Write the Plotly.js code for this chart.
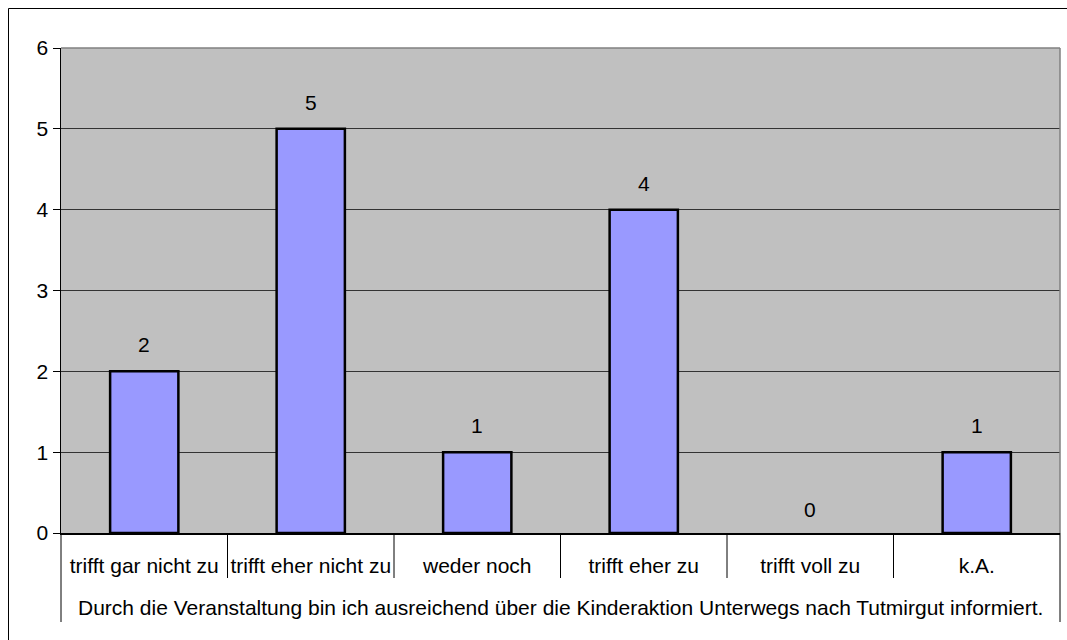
<!DOCTYPE html>
<html>
<head>
<meta charset="utf-8">
<script src="https://cdn.plot.ly/plotly-3.0.1.min.js"></script>
<style>html,body{margin:0;padding:0;background:#fff;}#chart{width:1067px;height:640px;}</style>
</head>
<body>
<div id="chart"></div>
<script>
const categories = ["trifft gar nicht zu", "trifft eher nicht zu", "weder noch", "trifft eher zu", "trifft voll zu", "k.A."];
const values = [2, 5, 1, 4, 0, 1];
const groupLabel = "Durch die Veranstaltung bin ich ausreichend über die Kinderaktion Unterwegs nach Tutmirgut informiert.";
const yTicks = [0, 1, 2, 3, 4, 5, 6];

const FONT = "Liberation Sans, Arial, sans-serif";
const FS = 21;

const trace = {
  type: "bar",
  x: categories.map((c, i) => i),
  y: values,
  width: 0.41,
  marker: {color: "#9999FF", line: {color: "#000000", width: values.map(v => v > 0 ? 2.5 : 0)}},
  hoverinfo: "skip"
};

const annotations = values.map((v, i) => ({
  x: i, y: v, xref: "x", yref: "y",
  text: String(v), showarrow: false,
  yanchor: "bottom", yshift: v > 0 ? 13 : 10,
  font: {family: FONT, size: FS, color: "#000"}
}));
annotations.push({
  x: 0.5, xref: "paper", y: -0.153, yref: "paper",
  text: groupLabel, showarrow: false, yanchor: "middle",
  font: {family: FONT, size: FS, color: "#000"}
});

const plotH = 485;
const shapes = [];
for (let i = 1; i < categories.length; i++) {
  shapes.push({type: "line", xref: "x", yref: "paper", x0: i - 0.5, x1: i - 0.5, y0: 0, y1: -45 / plotH,
    line: {color: "#000", width: 1}});
}
shapes.push({type: "line", xref: "paper", yref: "paper", x0: 0, x1: 0, y0: 0, y1: -89 / plotH, line: {color: "#000", width: 1}});
shapes.push({type: "line", xref: "paper", yref: "paper", x0: 1, x1: 1, y0: 0, y1: -89 / plotH, line: {color: "#000", width: 1}});
shapes.push({type: "line", xref: "paper", yref: "paper", x0: 0, x1: 1, y0: 1, y1: 1, line: {color: "#808080", width: 1.5}});
shapes.push({type: "line", xref: "paper", yref: "paper", x0: 1, x1: 1, y0: 0, y1: 1, line: {color: "#808080", width: 1.5}});
shapes.push({type: "line", xref: "paper", yref: "paper", x0: -52.5 / 999, x1: 1.2, y0: 1 + 39.5 / plotH, y1: 1 + 39.5 / plotH, line: {color: "#000", width: 1}});
shapes.push({type: "line", xref: "paper", yref: "paper", x0: -52.5 / 999, x1: -52.5 / 999, y0: 1 + 39.5 / plotH, y1: -0.5, line: {color: "#000", width: 1}});

const layout = {
  width: 1067, height: 640,
  margin: {l: 61, r: 7, t: 48, b: 107, pad: 0},
  paper_bgcolor: "#ffffff",
  plot_bgcolor: "#C0C0C0",
  showlegend: false,
  font: {family: FONT, size: FS, color: "#000"},
  xaxis: {
    type: "linear",
    range: [-0.5, categories.length - 0.5],
    tickmode: "array",
    tickvals: categories.map((c, i) => i),
    ticktext: categories,
    ticks: "", showgrid: false, zeroline: false,
    showline: true, linecolor: "#000", linewidth: 1.5,
    tickfont: {family: FONT, size: FS, color: "#000"},
    ticklabelstandoff: 13,
    fixedrange: true
  },
  yaxis: {
    range: [0, 6],
    tickmode: "array",
    tickvals: yTicks,
    ticks: "outside", ticklen: 7, tickcolor: "#000", tickwidth: 1,
    showgrid: true, gridcolor: "#333333", gridwidth: 1,
    zeroline: false,
    showline: true, linecolor: "#000", linewidth: 1.5,
    tickfont: {family: FONT, size: FS, color: "#000"},
    fixedrange: true
  },
  annotations: annotations,
  shapes: shapes
};

Plotly.newPlot("chart", [trace], layout, {displayModeBar: false, staticPlot: true});
</script>
</body>
</html>
